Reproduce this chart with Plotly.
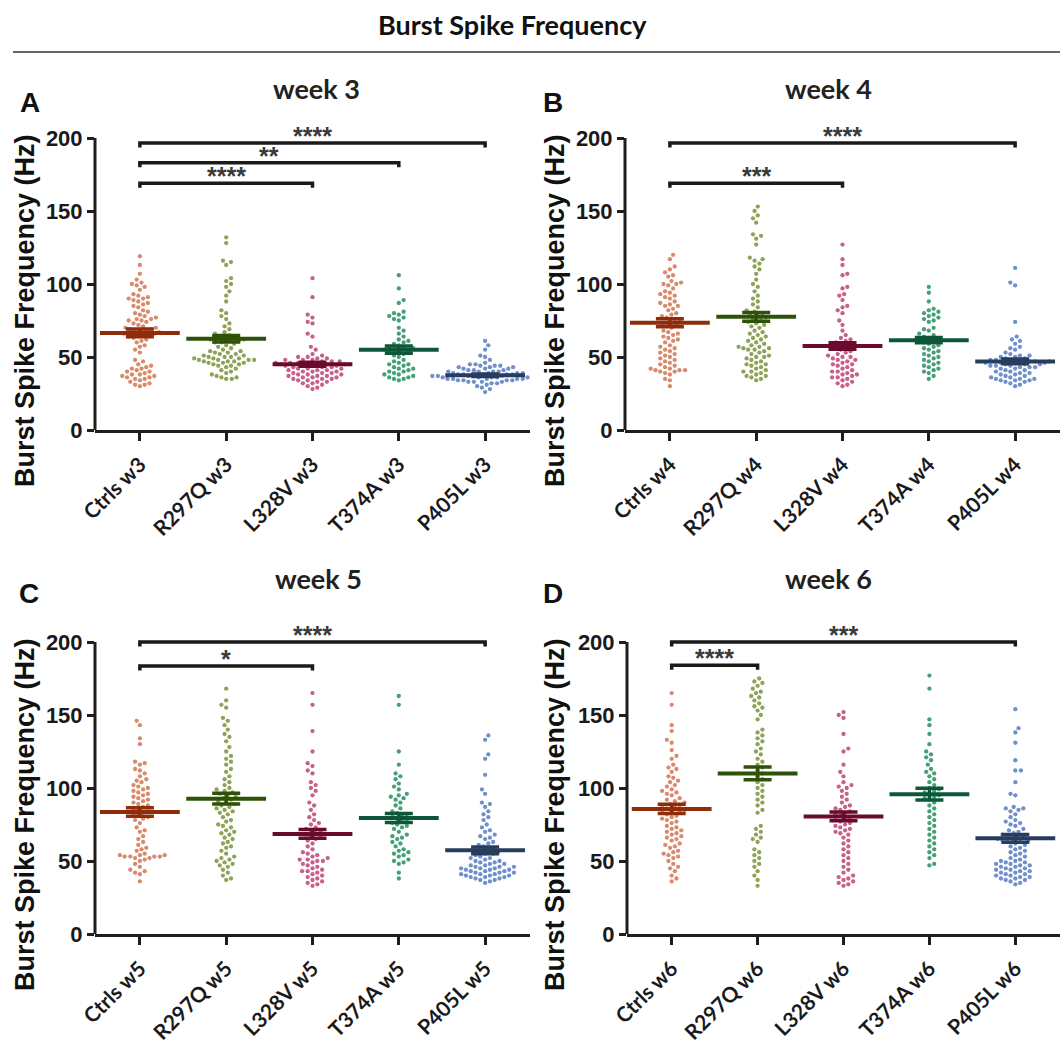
import numpy as np
import plotly.graph_objects as go

# ---------------- data ----------------
groups = ["Ctrls", "R297Q", "L328V", "T374A", "P405L"]
weeks = [3, 4, 5, 6]
panel_letters = ["A", "B", "C", "D"]
main_title = "Burst Spike Frequency"
y_title = "Burst Spike Frequency (Hz)"
y_ticks = [0, 50, 100, 150, 200]

ctrls_w3 = [119, 113, 107, 103, 101, 100, 99, 98, 96, 93, 92, 91, 90, 90, 89, 88, 87, 86, 85, 84, 82, 81, 80, 79,
            78, 77, 76, 76, 75, 75, 74, 73, 72, 71, 70, 70, 69, 69, 68, 68, 67, 67, 66, 66, 65, 65, 64, 64, 63, 62,
            61, 60, 58, 57, 55, 53, 48, 47, 45, 44, 43, 42, 42, 41, 40, 40, 39, 38, 38, 37, 37, 36, 36, 35, 35, 34,
            33, 32, 31, 31, 30]
r297q_w3 = [132, 128, 116, 115, 113, 104, 102, 100, 98, 95, 92, 88, 82, 80, 78, 76, 73, 71, 69, 67, 66, 65, 64, 63,
            63, 62, 62, 61, 61, 60, 60, 59, 58, 57, 56, 55, 54, 54, 53, 53, 52, 52, 51, 51, 50, 50, 50, 49, 49, 49,
            48, 48, 48, 48, 47, 47, 47, 46, 46, 46, 45, 45, 44, 44, 43, 42, 41, 40, 39, 38, 37, 36, 36, 35, 35]
l328v_w3 = [104, 91, 79, 77, 74, 73, 66, 64, 57, 55, 52, 51, 50, 50, 49, 49, 48, 48, 48, 47, 47, 47, 46, 46, 46, 46,
            45, 45, 45, 45, 44, 44, 44, 44, 43, 43, 43, 42, 42, 42, 41, 41, 41, 40, 40, 40, 39, 39, 39, 38, 38, 38,
            37, 37, 37, 36, 36, 36, 35, 35, 35, 34, 34, 33, 33, 32, 32, 31, 30, 29, 28]
t374a_w3 = [106, 97, 89, 87, 81, 80, 79, 78, 77, 76, 75, 70, 68, 66, 64, 62, 61, 60, 59, 58, 57, 56, 56, 55, 55, 54,
            54, 53, 52, 51, 50, 48, 47, 46, 45, 45, 44, 43, 42, 42, 41, 40, 40, 39, 38, 38, 37, 36, 36, 35, 35, 34]
p405l_w3 = [61, 58, 55, 51, 50, 48, 46, 45, 45, 44, 44, 44, 43, 43, 43, 42, 42, 42, 41, 41, 41, 40, 40, 40, 40, 39,
            39, 39, 39, 38, 38, 38, 38, 38, 37, 37, 37, 37, 37, 37, 36, 36, 36, 36, 36, 35, 35, 35, 35, 35, 34, 34,
            34, 34, 33, 33, 33, 33, 32, 32, 31, 30, 29, 28, 26]

ctrls_w4 = [120, 117, 112, 110, 108, 106, 105, 102, 101, 100, 100, 99, 97, 95, 94, 93, 92, 91, 90, 88, 87, 86, 85,
            85, 83, 82, 80, 79, 78, 77, 76, 75, 74, 73, 72, 71, 70, 68, 67, 66, 65, 64, 63, 62, 61, 60, 58, 57, 56,
            55, 54, 53, 52, 51, 50, 49, 48, 47, 46, 45, 44, 43, 42, 42, 41, 41, 41, 40, 40, 39, 38, 35, 34, 30]
r297q_w4 = [153, 150, 147, 145, 142, 134, 133, 131, 127, 118, 117, 116, 114, 112, 110, 107, 103, 100, 98, 95, 92, 90,
            88, 86, 84, 82, 81, 80, 79, 78, 77, 76, 75, 74, 73, 72, 71, 70, 68, 67, 66, 65, 64, 63, 62, 61, 60, 59,
            58, 57, 57, 56, 56, 55, 55, 54, 53, 52, 51, 50, 50, 49, 48, 47, 46, 45, 45, 44, 43, 42, 41, 40, 40, 39,
            38, 37, 37, 36, 35, 34]
l328v_w4 = [127, 117, 113, 107, 106, 98, 97, 93, 92, 89, 85, 84, 82, 80, 75, 72, 68, 65, 63, 62, 61, 60, 59, 58, 57,
            57, 56, 55, 54, 53, 52, 51, 50, 50, 49, 48, 48, 47, 46, 45, 45, 44, 43, 42, 41, 40, 40, 39, 38, 38, 37,
            36, 36, 35, 34, 33, 32, 31, 30]
t374a_w4 = [98, 94, 88, 83, 82, 81, 80, 79, 78, 77, 76, 75, 74, 70, 69, 68, 66, 65, 64, 63, 62, 61, 61, 60, 59, 58,
            57, 56, 55, 54, 53, 52, 51, 50, 49, 48, 47, 46, 45, 44, 43, 42, 41, 40, 39, 37, 35]
p405l_w4 = [111, 101, 99, 74, 64, 62, 61, 59, 57, 56, 55, 53, 52, 51, 51, 50, 50, 49, 49, 48, 48, 48, 47, 47, 47, 47,
            46, 46, 46, 46, 45, 45, 45, 44, 44, 44, 43, 43, 43, 42, 42, 41, 41, 40, 40, 39, 39, 38, 38, 37, 37, 36,
            36, 35, 35, 35, 34, 34, 34, 33, 33, 32, 31, 30]

ctrls_w5 = [146, 143, 134, 130, 118, 117, 116, 113, 112, 110, 108, 106, 105, 104, 102, 101, 100, 99, 98, 97, 96, 95,
            94, 93, 92, 91, 90, 89, 88, 87, 86, 85, 84, 83, 82, 81, 80, 79, 78, 76, 73, 71, 70, 67, 65, 63, 61, 59,
            58, 57, 55, 54, 54, 54, 53, 53, 53, 53, 52, 52, 51, 50, 48, 46, 44, 43, 42, 41, 36]
r297q_w5 = [168, 160, 157, 155, 148, 146, 143, 140, 137, 135, 132, 128, 125, 122, 120, 118, 116, 113, 111, 108, 106,
            104, 102, 100, 99, 98, 97, 96, 95, 94, 93, 92, 91, 90, 89, 88, 87, 86, 85, 84, 83, 82, 80, 78, 77, 75,
            74, 73, 71, 70, 69, 68, 66, 65, 63, 62, 60, 59, 57, 55, 53, 52, 51, 50, 49, 48, 47, 46, 44, 42, 40, 38, 37]
l328v_w5 = [165, 157, 139, 125, 117, 115, 112, 110, 104, 102, 100, 98, 95, 90, 88, 85, 82, 80, 78, 76, 75, 73, 72, 71,
            70, 69, 68, 67, 66, 65, 64, 62, 60, 58, 56, 55, 54, 53, 52, 51, 51, 50, 50, 49, 48, 47, 46, 45, 44, 43,
            43, 42, 41, 40, 39, 38, 37, 36, 35, 34, 33]
t374a_w5 = [163, 157, 125, 116, 110, 108, 106, 103, 101, 99, 96, 95, 94, 93, 92, 90, 88, 86, 84, 83, 82, 81, 80, 79,
            78, 77, 76, 75, 74, 73, 72, 70, 68, 67, 66, 65, 63, 62, 60, 58, 57, 56, 55, 54, 53, 51, 50, 49, 48, 42, 38]
p405l_w5 = [136, 133, 123, 120, 109, 99, 96, 90, 89, 87, 84, 82, 80, 78, 75, 73, 71, 70, 68, 67, 66, 65, 63, 62, 61,
            60, 59, 58, 57, 57, 56, 55, 55, 54, 53, 52, 52, 51, 50, 50, 49, 49, 48, 48, 47, 47, 46, 46, 46, 45, 45,
            45, 44, 44, 44, 43, 43, 43, 42, 42, 42, 41, 41, 41, 40, 40, 40, 39, 39, 39, 38, 38, 37, 37, 36, 35]

ctrls_w6 = [165, 157, 143, 139, 133, 131, 126, 122, 120, 116, 114, 113, 111, 108, 107, 105, 104, 102, 101, 99, 98, 97,
            96, 95, 93, 92, 91, 90, 89, 88, 88, 87, 86, 85, 84, 84, 83, 82, 81, 80, 79, 78, 77, 76, 74, 73, 72, 71,
            70, 69, 68, 67, 66, 65, 64, 62, 61, 60, 59, 57, 56, 55, 54, 53, 52, 50, 48, 46, 45, 43, 40, 38, 36]
r297q_w6 = [175, 173, 172, 170, 168, 166, 165, 163, 162, 160, 158, 156, 155, 153, 150, 147, 140, 138, 136, 134, 132,
            130, 127, 125, 123, 120, 118, 116, 114, 112, 110, 108, 106, 104, 102, 100, 98, 96, 94, 92, 90, 88, 85,
            83, 74, 72, 70, 68, 66, 65, 63, 58, 56, 54, 52, 50, 48, 46, 43, 40, 37, 33]
l328v_w6 = [152, 150, 148, 137, 127, 125, 116, 111, 108, 104, 102, 101, 100, 98, 96, 94, 92, 90, 88, 87, 86, 85, 84,
            83, 82, 81, 80, 79, 78, 77, 76, 75, 74, 73, 72, 71, 70, 69, 68, 66, 64, 62, 60, 58, 56, 54, 52, 50, 48,
            46, 44, 42, 40, 39, 38, 37, 36, 35, 34, 33]
t374a_w6 = [177, 168, 147, 143, 137, 130, 125, 123, 121, 119, 116, 113, 111, 110, 108, 106, 104, 102, 100, 99, 98, 97,
            96, 95, 94, 93, 92, 90, 88, 86, 84, 82, 80, 78, 76, 74, 72, 70, 68, 66, 64, 62, 60, 58, 56, 54, 52, 48, 47]
p405l_w6 = [154, 141, 138, 131, 119, 112, 112, 104, 96, 95, 87, 86, 86, 85, 84, 82, 80, 78, 77, 76, 75, 74, 72, 71,
            70, 69, 68, 67, 66, 66, 65, 65, 64, 64, 63, 63, 62, 61, 60, 59, 58, 57, 56, 55, 54, 53, 52, 51, 50, 50,
            49, 49, 48, 48, 47, 47, 46, 46, 45, 45, 44, 44, 43, 43, 42, 42, 41, 41, 40, 40, 39, 39, 38, 38, 37, 37,
            36, 35, 34]

means_w3 = [66.5, 62.5, 45.0, 55.0, 37.5]
means_w4 = [73.5, 77.5, 57.5, 61.5, 47.0]
means_w5 = [83.5, 92.7, 68.5, 79.5, 57.3]
means_w6 = [85.7, 110.0, 80.5, 95.8, 65.5]
sem_w3 = [2.6, 2.2, 1.4, 2.5, 0.8]
sem_w4 = [2.7, 3.0, 2.2, 1.8, 1.6]
sem_w5 = [2.9, 3.7, 3.0, 3.1, 2.3]
sem_w6 = [3.2, 4.4, 3.0, 4.0, 2.6]

# significance brackets: (from group, to group, bracket height, label)
sig_w3 = [(0, 2, 169, "****"), (0, 3, 183, "**"), (0, 4, 196.5, "****")]
sig_w4 = [(0, 2, 169, "***"), (0, 4, 196.5, "****")]
sig_w5 = [(0, 2, 183.5, "*"), (0, 4, 200, "****")]
sig_w6 = [(0, 1, 184, "****"), (0, 4, 200, "***")]

point_colors = ["#d98a6c", "#8ea258", "#c8608a", "#45a077", "#7090cc"]
bar_colors = ["#8e2c0c", "#2e5208", "#6a0a2c", "#0d5738", "#283c5e"]

# ---------------- assemble ----------------
values = {
    3: [ctrls_w3, r297q_w3, l328v_w3, t374a_w3, p405l_w3],
    4: [ctrls_w4, r297q_w4, l328v_w4, t374a_w4, p405l_w4],
    5: [ctrls_w5, r297q_w5, l328v_w5, t374a_w5, p405l_w5],
    6: [ctrls_w6, r297q_w6, l328v_w6, t374a_w6, p405l_w6],
}
means = {3: means_w3, 4: means_w4, 5: means_w5, 6: means_w6}
sems = {3: sem_w3, 4: sem_w4, 5: sem_w5, 6: sem_w6}
sigs = {3: sig_w3, 4: sig_w4, 5: sig_w5, 6: sig_w6}

W, H = 1060, 1046
# panel pixel geometry: x-left, x-right, y of value 0, y of value 200
geom = [(95, 530, 430, 138), (625, 1060, 430, 138), (95, 530, 934, 642), (627, 1060, 934, 642)]
XR = [-0.52, 4.52]
YTOP = 216

letter_pos = [(30, 102), (553, 102), (29, 593), (553, 593)]
week_pos = [(316, 88), (828, 88), (318, 578), (828, 578)]
ytitle_pos = [(25, 311), (555, 311), (25, 815), (555, 815)]

AX = "#1e1e1e"


def swarm(vals, xpx, ypx, d=5.0, step=0.8):
    vals = np.asarray(vals, float)
    order = np.argsort(vals)
    placed = []
    offs = np.zeros(len(vals))
    for n, idx in enumerate(order):
        y = vals[idx] * ypx
        near = [(px, py) for px, py in placed if abs(py - y) < d]
        k = 0
        chosen = 0.0
        while True:
            cands = [0.0] if k == 0 else ([k * step, -k * step] if n % 2 else [-k * step, k * step])
            found = False
            for x in cands:
                if all((x - px) ** 2 + (y - py) ** 2 >= d * d for px, py in near):
                    chosen = x
                    found = True
                    break
            if found:
                break
            k += 1
        placed.append((chosen, y))
        offs[idx] = chosen / xpx
    return offs


fig = go.Figure()
layout = dict(width=W, height=H, margin=dict(l=0, r=0, t=0, b=0, autoexpand=False), plot_bgcolor="white",
              paper_bgcolor="white", showlegend=False)
shapes = []
annotations = []


def pa(px, py):
    return px / W, 1 - py / H


for p, wk in enumerate(weeks):
    xl, xr, y0, y200 = geom[p]
    ppu = (y0 - y200) / 200.0
    ytop_px = y0 - YTOP * ppu
    xpx = (xr - xl) / (XR[1] - XR[0])
    sfx = "" if p == 0 else str(p + 1)
    xa, ya = "x" + sfx, "y" + sfx
    layout["xaxis" + sfx] = dict(
        domain=[xl / W, xr / W], anchor=ya, range=XR, tickmode="array", automargin=False,
        tickvals=list(range(len(groups))), ticktext=[f"{g} w{wk}" for g in groups],
        tickangle=-45, ticks="outside", ticklen=8, tickwidth=3, tickcolor=AX,
        showline=True, linewidth=3, linecolor=AX, showgrid=False, zeroline=False,
        ticklabelstandoff=3,
        tickfont=dict(family="Lato", size=21, color="#1a1a1a", weight="bold"))
    layout["yaxis" + sfx] = dict(
        domain=[1 - y0 / H, 1 - ytop_px / H], anchor=xa, range=[0, YTOP], tickmode="array",
        tickvals=y_ticks, ticks="outside", ticklen=7, tickwidth=2.5, tickcolor=AX, automargin=False,
        showline=False, showgrid=False, zeroline=False,
        tickfont=dict(family="Liberation Sans", size=22, color="#1a1a1a", weight="bold"))
    # y axis line from 0 to 200
    shapes.append(dict(type="line", xref=xa + " domain", yref=ya, x0=0, x1=0, y0=-0.8, y1=200,
                       line=dict(color=AX, width=3)))

    for g in range(len(groups)):
        vals = values[wk][g]
        offs = swarm(vals, xpx, ppu)
        fig.add_trace(go.Scatter(
            x=g + offs, y=vals, mode="markers", xaxis=xa, yaxis=ya,
            marker=dict(size=4.3, color=point_colors[g], line=dict(width=0)), hoverinfo="y"))
    for g in range(len(groups)):
        fig.add_trace(go.Scatter(
            x=[g], y=[means[wk][g]], mode="markers", xaxis=xa, yaxis=ya,
            marker=dict(symbol="line-ew", size=57, line=dict(width=4, color=bar_colors[g])),
            error_y=dict(type="data", array=[sems[wk][g]], visible=True, width=14,
                         thickness=3.5, color=bar_colors[g]),
            hoverinfo="y"))

    for (i, j, yb, lab) in sigs[wk]:
        drop = 4.5 / ppu
        shapes.append(dict(type="path", xref=xa, yref=ya,
                           path=f"M {i},{yb - drop} L {i},{yb} L {j},{yb} L {j},{yb - drop}",
                           line=dict(color="#1a1a1a", width=3.5)))
        annotations.append(dict(x=(i + j) / 2, y=yb, xref=xa, yref=ya, text=lab, showarrow=False,
                                xanchor="center", yanchor="bottom", yshift=-9,
                                font=dict(family="Liberation Sans", size=25, color="#3a3a3a",
                                          weight="bold")))

    lx, ly = pa(*letter_pos[p])
    annotations.append(dict(x=lx, y=ly, xref="paper", yref="paper", text=panel_letters[p],
                            showarrow=False, xanchor="center", yanchor="middle",
                            font=dict(family="Liberation Sans", size=28, color="#111", weight="bold")))
    wx, wy = pa(*week_pos[p])
    annotations.append(dict(x=wx, y=wy, xref="paper", yref="paper", text=f"week {wk}",
                            showarrow=False, xanchor="center", yanchor="middle",
                            font=dict(family="Lato", size=27, color="#222", weight="bold")))
    tx, ty = pa(*ytitle_pos[p])
    annotations.append(dict(x=tx, y=ty, xref="paper", yref="paper", text=y_title, textangle=-90,
                            showarrow=False, xanchor="center", yanchor="middle",
                            font=dict(family="Liberation Sans", size=27, color="#111", weight="bold")))

mx, my = pa(512, 24)
annotations.append(dict(x=mx, y=my, xref="paper", yref="paper", text=main_title, showarrow=False,
                        xanchor="center", yanchor="middle",
                        font=dict(family="Lato", size=27, color="#111", weight="bold")))
shapes.append(dict(type="line", xref="paper", yref="paper", x0=13 / W, x1=1.0, y0=1 - 52 / H, y1=1 - 52 / H,
                   line=dict(color="#666", width=2)))

layout["shapes"] = shapes
layout["annotations"] = annotations
fig.update_layout(**layout)
fig.write_html("out.html")
